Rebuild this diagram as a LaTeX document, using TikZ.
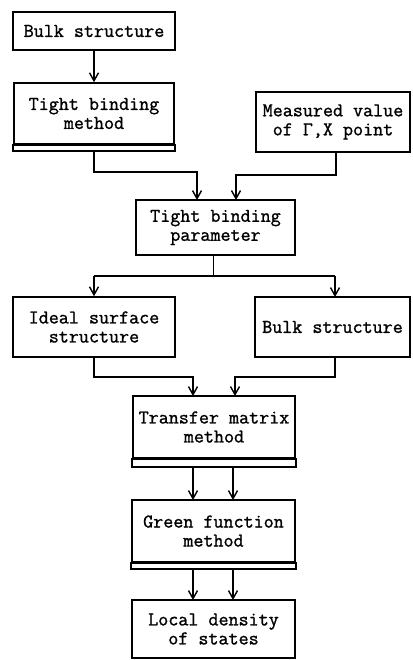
\documentclass[tikz,border=0pt]{standalone}
\usepackage{fontspec}
\newfontfamily\twfont[FakeBold=1.2]{Latin Modern Mono}
\usetikzlibrary{arrows.meta}
\begin{document}
\begin{tikzpicture}[x=1pt,y=-1pt,
  box/.style={draw,line width=1.6pt,align=center,inner sep=0pt,
    font=\twfont\bfseries\fontsize{19.5}{19}\selectfont},
  conn/.style={line width=1.6pt,-{Straight Barb[length=8pt,width=9pt,line width=1.4pt]}},
  wire/.style={line width=1.6pt}]
\useasboundingbox (0,0) rectangle (412,660);
% boxes
\node[box,minimum width=162pt,minimum height=38pt] (b1) at (94,31) {Bulk structure};
\node[box,minimum width=160pt,minimum height=61pt] (b2) at (94,113.5) {Tight binding\\method};
\node[box,minimum width=154pt,minimum height=60pt] (m) at (333,122) {Measured value\\of Γ,X point};
\node[box,minimum width=159pt,minimum height=55pt] (p) at (215.5,227.5) {Tight binding\\parameter};
\node[box,minimum width=162pt,minimum height=60pt] (i) at (94,327) {Ideal surface\\structure};
\node[box,minimum width=155pt,minimum height=60pt] (bs) at (332.5,327) {Bulk structure};
\node[box,minimum width=162pt,minimum height=62pt] (t) at (214,427) {Transfer matrix\\method};
\node[box,minimum width=163pt,minimum height=62pt] (g) at (213.5,531) {Green function\\method};
\node[box,minimum width=163pt,minimum height=58pt] (l) at (213.5,629) {Local density\\of states};
% strips under method boxes
\draw[wire] (b2.south west) rectangle ([yshift=-6pt]b2.south east);
\draw[wire] (t.south west) rectangle ([yshift=-8pt]t.south east);
\draw[wire] (g.south west) rectangle ([yshift=-6pt]g.south east);
\coordinate (b2s) at ([yshift=-6pt]b2.south);
\coordinate (ts) at ([yshift=-8pt]t.south);
\coordinate (gs) at ([yshift=-6pt]g.south);
\coordinate (split) at (213.5,276);
% connectors
\draw[conn] (b1.south) -- (b2.north);
\draw[conn] (b2s) -- (94,172) -- (197,172) -- (197,200);
\draw[conn] ([xshift=3pt]m.south) -- (336,175) -- (236,175) -- (236,200);
\draw[wire] ([xshift=-2pt]p.south) -- (split);
\draw[conn] (94,276) -- (i.north);
\draw[wire] (94,276) -- (335,276);
\draw[conn] (335,276) -- (335,297);
\draw[conn] (i.south) -- (94,377) -- (193,377) -- (193,396);
\draw[conn] ([xshift=2.5pt]bs.south) -- (335,377) -- (235,377) -- (235,396);
\draw[conn] ([xshift=-21pt]ts) -- (193,500);
\draw[conn] ([xshift=19pt]ts) -- (233,500);
\draw[conn] ([xshift=-20.5pt]gs) -- (193,600);
\draw[conn] ([xshift=19.5pt]gs) -- (233,600);
\end{tikzpicture}
\end{document}
